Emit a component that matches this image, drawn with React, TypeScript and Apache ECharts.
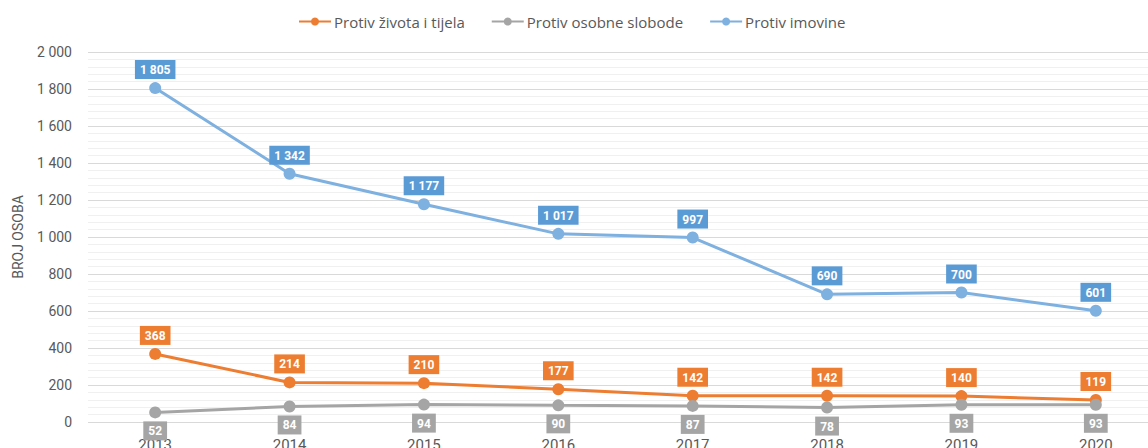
import React, { useEffect, useRef } from "react";
import * as echarts from "echarts";

const years = ["2013", "2014", "2015", "2016", "2017", "2018", "2019", "2020"];
const zivotaTijela = [368, 214, 210, 177, 142, 142, 140, 119];
const osobneSlobode = [52, 84, 94, 90, 87, 78, 93, 93];
const imovine = [1805, 1342, 1177, 1017, 997, 690, 700, 601];

const fmt = (v: number) => String(v).replace(/\B(?=(\d{3})+(?!\d))/g, " ");
const FONT = "Roboto";

function mkSeries(name: string, data: number[], color: string, labelBg: string, pos: string) {
  return {
    name,
    type: "line",
    data,
    symbol: "circle",
    symbolSize: 12,
    lineStyle: { width: 3, color },
    itemStyle: { color },
    label: {
      show: true,
      position: pos,
      distance: 3,
      formatter: (p: any) => fmt(p.value),
      backgroundColor: labelBg,
      color: "#ffffff",
      fontWeight: "bold",
      fontSize: 12,
      fontFamily: FONT,
      padding: [4, 5, 3, 5],
    },
  };
}

export default function App() {
  const ref = useRef<HTMLDivElement>(null);
  useEffect(() => {
    const chart = echarts.init(ref.current!, null, { renderer: "svg" });
    chart.setOption({
      animation: false,
      textStyle: { fontFamily: FONT },
      legend: {
        top: 9,
        left: 293,
        itemWidth: 32,
        itemHeight: 10,
        itemGap: 26,
        textStyle: { color: "#595959", fontSize: 15, fontFamily: "Open Sans", padding: [0, 0, 0, -2] },
        data: ["Protiv života i tijela", "Protiv osobne slobode", "Protiv imovine"],
      },
      grid: { left: 88, width: 1075, top: 52, height: 370, containLabel: false, outerBoundsMode: "none" },
      xAxis: {
        type: "category",
        data: years,
        boundaryGap: true,
        axisLine: { show: false },
        axisTick: { show: false },
        axisLabel: { color: "#595959", fontSize: 15, margin: 15, fontFamily: FONT },
      },
      yAxis: {
        type: "value",
        min: 0,
        max: 2000,
        interval: 200,
        name: "BROJ OSOBA",
        nameLocation: "middle",
        nameGap: 63,
        nameRotate: 90,
        nameTextStyle: { color: "#595959", fontSize: 14, fontFamily: FONT },
        axisLine: { show: false },
        axisTick: { show: false },
        axisLabel: { color: "#595959", fontSize: 14, margin: 16, formatter: (v: number) => fmt(v), fontFamily: FONT },
        splitLine: { lineStyle: { color: "#d9d9d9", width: 1 } },
        minorTick: { show: false, splitNumber: 5 },
        minorSplitLine: { show: true, lineStyle: { color: "#f0f0f0", width: 1 } },
      },
      series: [
        mkSeries("Protiv života i tijela", zivotaTijela, "#ED7D31", "#ED7D31", "top"),
        mkSeries("Protiv osobne slobode", osobneSlobode, "#A5A5A5", "#A5A5A5", "bottom"),
        mkSeries("Protiv imovine", imovine, "#7EB0E0", "#5B9BD5", "top"),
      ],
    });
    return () => chart.dispose();
  }, []);
  return (
    <div style={{ width: 1148, height: 448, position: "absolute", left: 0, top: 0, overflow: "hidden" }}>
      <div ref={ref} style={{ width: 1163, height: 448 }} />
    </div>
  );
}
